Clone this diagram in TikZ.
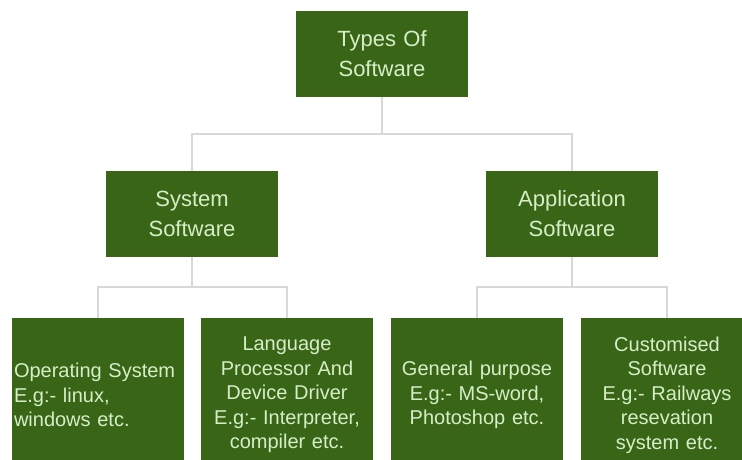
\documentclass[tikz,border=0pt]{standalone}
\usepackage{fontspec}
\setmainfont{Liberation Sans}
\definecolor{boxgreen}{RGB}{56,102,22}
\definecolor{boxtext}{RGB}{214,238,200}
\definecolor{linkgray}{RGB}{216,216,216}
\begin{document}
\begin{tikzpicture}[x=1pt, y=-1pt,
        box/.style={fill=boxgreen, text=boxtext, minimum width=172pt, inner sep=2pt, text width=168pt, align=center},
        big/.style={box, minimum height=86pt, font=\fontsize{22}{30}\selectfont},
        leaf/.style={box, minimum height=154pt, font=\fontsize{20}{24.5}\selectfont},
        link/.style={draw=linkgray, line width=1.5pt}]
    \useasboundingbox (0,0) rectangle (742,459);
    \clip (0,0) rectangle (742,459);

    \node[big] (T) at (382, 54)  {Types Of\\Software};
    \node[big] (S) at (192, 214) {System\\Software};
    \node[big] (A) at (572, 214) {Application\\Software};

    \node[leaf, align=left] (S1) at (98, 395)  {Operating System\\E.g:- linux,\\windows etc.};
    \node[leaf]             (S2) at (287, 395) {Language\\Processor And\\Device Driver\\E.g:- Interpreter,\\compiler etc.};
    \node[leaf]             (A1) at (477, 395) {General purpose\\E.g:- MS-word,\\Photoshop etc.};
    \node[leaf]             (A2) at (667, 395) {Customised\\Software\\E.g:- Railways\\resevation\\system etc.};

    % tree connectors
    \draw[link] (T.south) -- ++(0,37) -| (S.north);
    \draw[link] (T.south) -- ++(0,37) -| (A.north);
    \draw[link] (S.south) -- ++(0,30) -| (S1.north);
    \draw[link] (S.south) -- ++(0,30) -| (S2.north);
    \draw[link] (A.south) -- ++(0,30) -| (A1.north);
    \draw[link] (A.south) -- ++(0,30) -| (A2.north);
\end{tikzpicture}
\end{document}
